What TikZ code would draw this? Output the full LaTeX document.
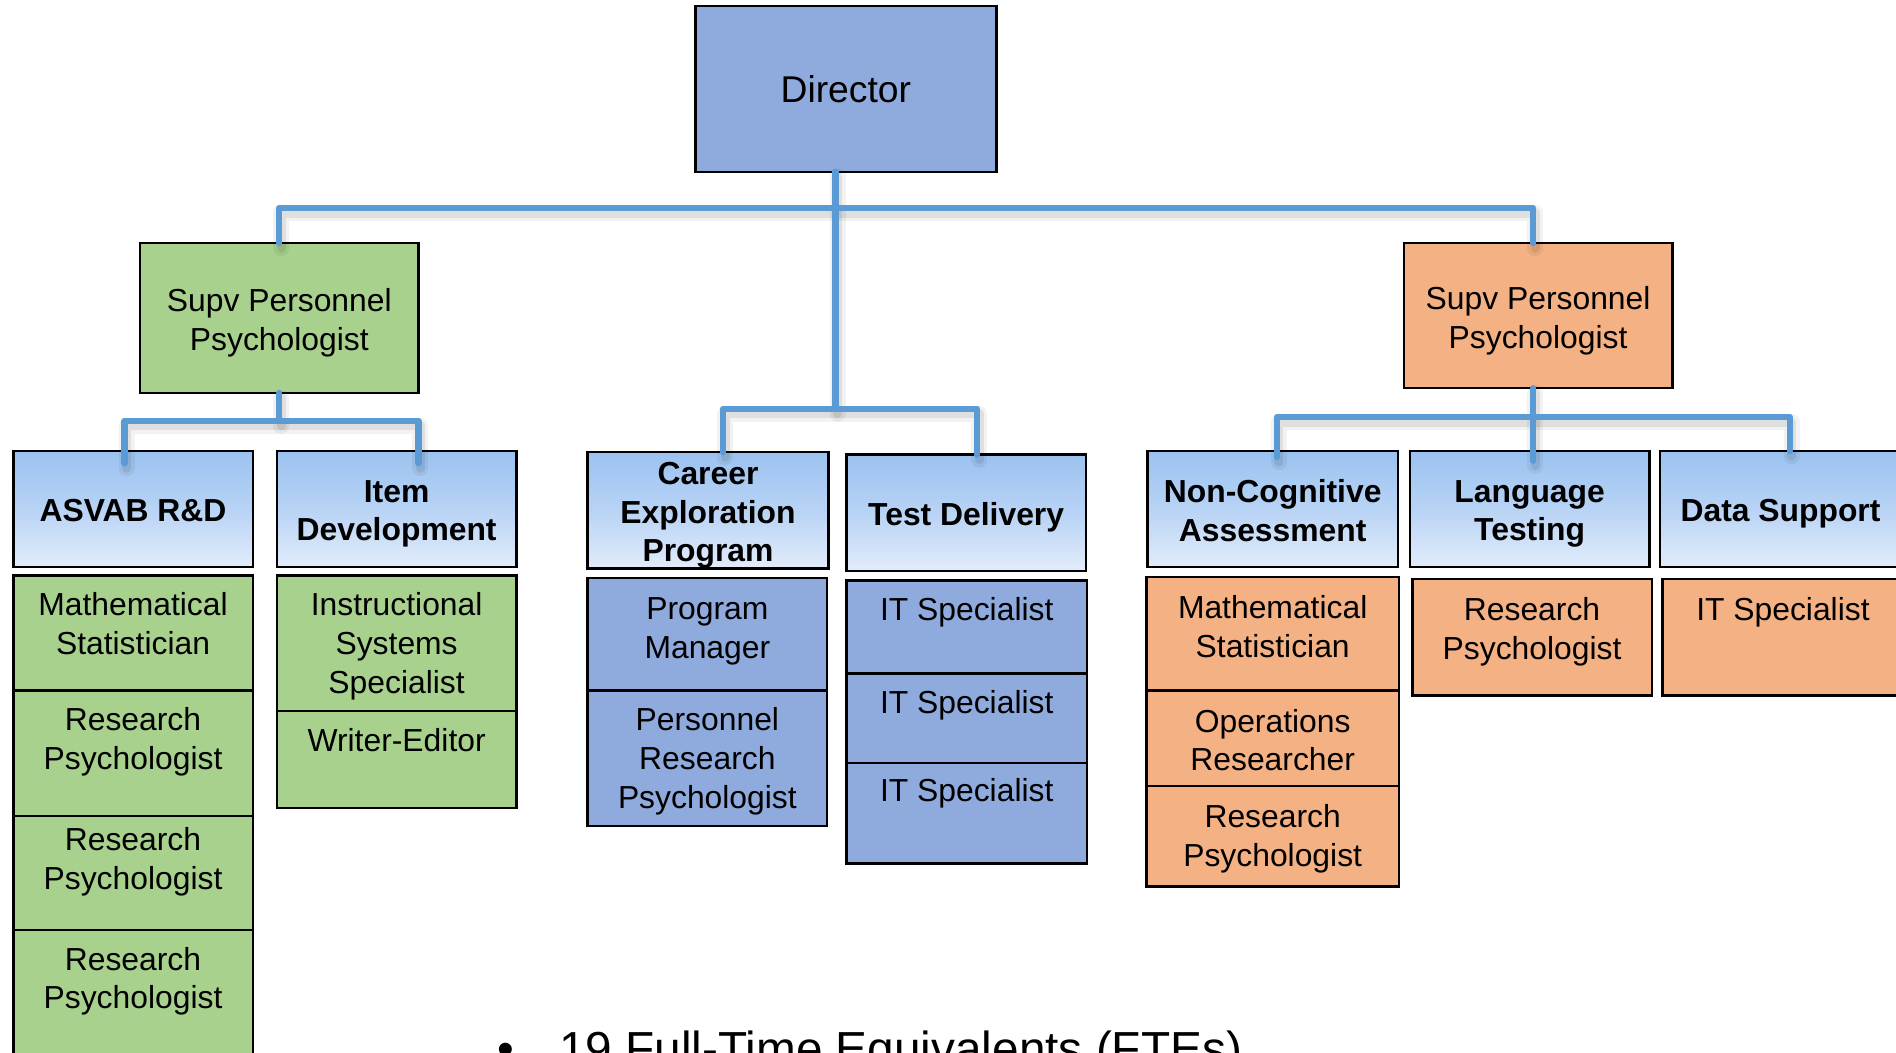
\documentclass[tikz,border=0pt]{standalone}
\usepackage{fontspec}
\setmainfont{Liberation Sans}
\usetikzlibrary{calc}
\definecolor{grn}{RGB}{169,209,142}
\definecolor{org}{RGB}{244,177,131}
\definecolor{blu}{RGB}{143,170,220}
\definecolor{htop}{RGB}{155,194,240}
\definecolor{hmid}{RGB}{184,211,245}
\definecolor{hbot}{RGB}{226,236,250}
\definecolor{lnk}{RGB}{91,155,213}
% box with centred text (text in its own node, lowered slightly)
\newcommand\orghdr[8]{\node[#6, anchor=north west, minimum width={(#4-#2)*0.6pt}, minimum height={(#5-#3)*0.6pt}] (#1) at (#2,#3) {};
  \node[#7, anchor=center, text depth=0pt] (#1t) at ([yshift=-0.8pt]#1.center) {#8};}
% box with top-aligned text
\newcommand\orgsub[8]{\node[#6, anchor=north west, minimum width={(#4-#2)*0.6pt}, minimum height={(#5-#3)*0.6pt}] (#1) at (#2,#3) {};
  \node[lab, anchor=north] (#1t) at ([yshift={-#7*0.6pt}]#1.north) {#8};}
\newcommand\orglinks[1]{%
  \draw[#1] (jD |- dir.south) -- (cC);
  \draw[#1] (bL0 |- supvL.north) -- (bL0) -- (bR0) -- (bR0 |- supvR.north);
  \draw[#1] (cL |- hC.north) -- (cL) -- (cR) -- (cR |- hT.north);
  \draw[#1] (supvL.south) -- (lC);
  \draw[#1] ($(lL |- hA.north)+(0,10)$) -- (lL) -- (lR) -- ($(lR |- hI.north)+(0,10)$);
  \draw[#1] (rC |- supvR.south) -- ($(rC |- hL.north)+(0,8)$);
  \draw[#1] ($(rL |- hN.north)+(0,5)$) -- (rL) -- (rR) -- (rR |- hS.north);
}
\tikzset{
  bx/.style={draw=black, line width=1.2pt, inner sep=0pt, outer sep=0pt},
  gbox/.style={bx, fill=grn},
  obox/.style={bx, fill=org},
  bbox/.style={bx, fill=blu},
  hbox/.style={bx, top color=htop, bottom color=hbot, middle color=hmid},
  lab/.style={align=center, inner sep=0pt, font=\fontsize{15.8}{19.2}\selectfont},
  hlab/.style={lab, font=\fontsize{15.8}{19.2}\selectfont\bfseries},
  dlab/.style={lab, font=\fontsize{18.5}{22}\selectfont},
  conn/.style={draw=lnk, line width=3.1pt, line join=round, line cap=round},
  shA/.style={draw=black, opacity=0.05, line width=8pt, line join=round, line cap=round,
    transform canvas={shift={(1pt,-2.5pt)}}},
  shB/.style={draw=black, opacity=0.08, line width=4.5pt, line join=round, line cap=round,
    transform canvas={shift={(1pt,-2.5pt)}}}
}
\begin{document}
\begin{tikzpicture}[x=0.6pt, y=-0.6pt]
\useasboundingbox (0,0) rectangle (1568,870);
\clip (0,0) rectangle (1568,870);
\fill[white] (0,0) rectangle (1568,870);

% top level
\node[bbox, anchor=north west, minimum width={249*0.6pt}, minimum height={137*0.6pt}] (dir) at (575,5) {};
\node[dlab] (dirt) at (dir.center) {Director};
\orghdr{supvL}{116}{201}{346}{325}{gbox}{lab}{Supv Personnel\\Psychologist}
\orghdr{supvR}{1161}{201}{1383}{321}{obox}{lab}{Supv Personnel\\Psychologist}

% headers
\orghdr{hA}{11}{373}{209}{469}{hbox}{hlab}{ASVAB R\&D}
\orghdr{hI}{229}{373}{427}{469}{hbox}{hlab}{Item\\Development}
\orghdr{hC}{486}{374}{685}{470}{hbox}{hlab}{Career\\Exploration\\Program}
\orghdr{hT}{700}{376}{898}{472}{hbox}{hlab}{Test Delivery}
\orghdr{hN}{949}{373}{1156}{469}{hbox}{hlab}{Non-Cognitive\\Assessment}
\orghdr{hL}{1166}{373}{1364}{469}{hbox}{hlab}{Language\\Testing}
\orghdr{hS}{1373}{373}{1572}{469}{hbox}{hlab}{Data Support}

% ASVAB column
\orgsub{a1}{11}{476}{209}{571}{gbox}{14}{Mathematical\\Statistician}
\orgsub{a2}{11}{571}{209}{675}{gbox}{14}{Research\\Psychologist}
\orgsub{a3}{11}{675}{209}{769}{gbox}{9}{Research\\Psychologist}
\orgsub{a4}{11}{769}{209}{885}{gbox}{14}{Research\\Psychologist}
% Item development column
\orgsub{i1}{229}{476}{427}{588}{gbox}{14}{Instructional\\Systems\\Specialist}
\orgsub{i2}{229}{588}{427}{668}{gbox}{14}{Writer-Editor}
% Career column
\orgsub{c1}{486}{478}{684}{571}{bbox}{16}{Program\\Manager}
\orgsub{c2}{486}{571}{684}{683}{bbox}{14}{Personnel\\Research\\Psychologist}
% Test delivery column
\orgsub{t1}{700}{480}{899}{557}{bbox}{14}{IT Specialist}
\orgsub{t2}{700}{557}{899}{631}{bbox}{14}{IT Specialist}
\orgsub{t3}{700}{631}{899}{714}{bbox}{12}{IT Specialist}
% Non-cognitive column
\orgsub{n1}{948}{477}{1157}{571}{obox}{15}{Mathematical\\Statistician}
\orgsub{n2}{948}{571}{1157}{650}{obox}{15}{Operations\\Researcher}
\orgsub{n3}{948}{650}{1157}{733}{obox}{15}{Research\\Psychologist}
% Language column
\orgsub{l1}{1168}{479}{1366}{575}{obox}{15}{Research\\Psychologist}
% Data support column
\orgsub{s1}{1375}{479}{1574}{575}{obox}{15}{IT Specialist}

% connector joints
\coordinate (jD) at (691,172);
\coordinate (bL0) at (231,172);
\coordinate (bR0) at (1268,172);
\coordinate (cC) at (691,338);
\coordinate (cL) at (598,338);
\coordinate (cR) at (808,338);
\coordinate (lC) at (231,348);
\coordinate (lL) at (103,348);
\coordinate (lR) at (346,348);
\coordinate (rC) at (1268,345);
\coordinate (rL) at (1056,345);
\coordinate (rR) at (1480,345);

\orglinks{shA}
\orglinks{shB}
\orglinks{conn}

% bottom bullet text (cut by the frame, as in the reference)
\node[anchor=base, inner sep=0pt, font=\fontsize{23.7}{28}\selectfont] (bul) at (418,881) {•};
\node[anchor=base west, inner sep=0pt, font=\fontsize{23.7}{28}\selectfont] (fte) at (462,881) {19 Full-Time Equivalents (FTEs)};
\end{tikzpicture}
\end{document}
